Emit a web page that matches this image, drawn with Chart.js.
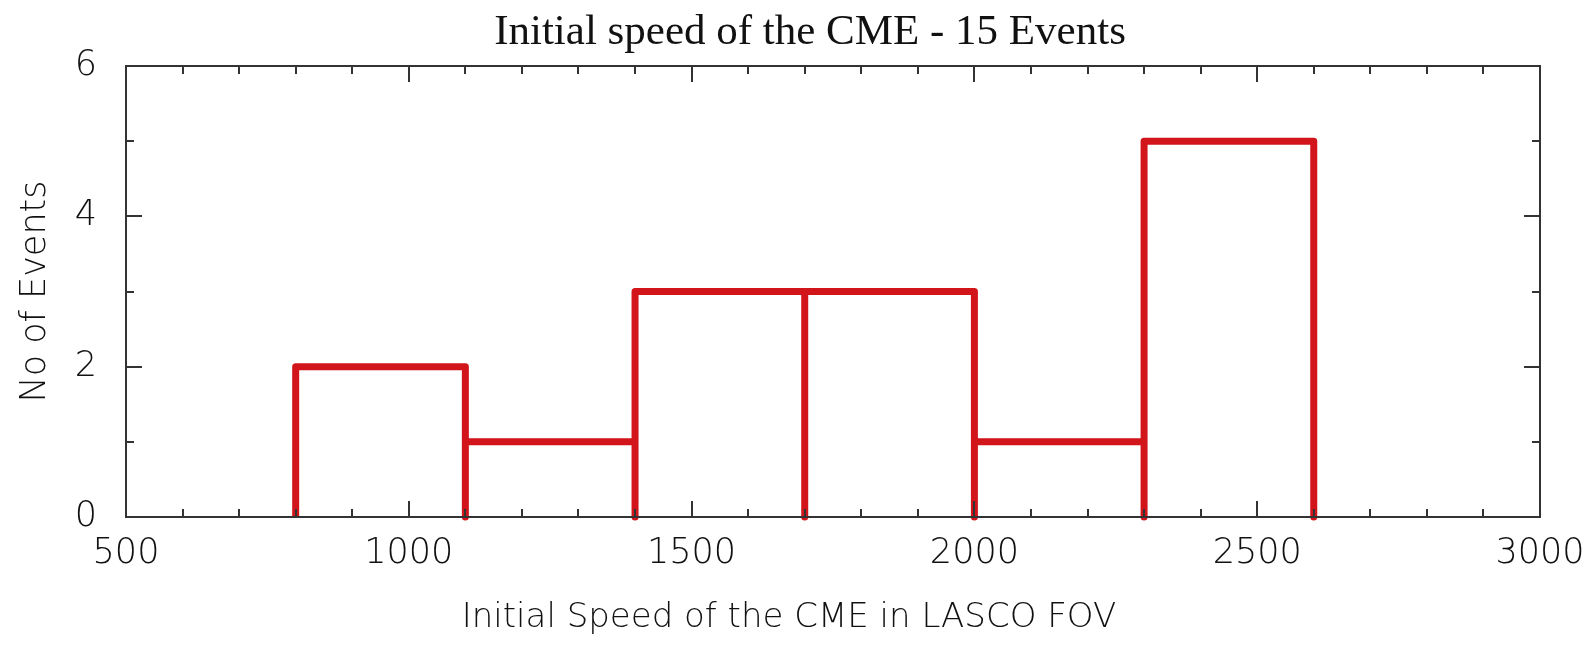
<!DOCTYPE html>
<html>
<head>
<meta charset="utf-8">
<script src="https://cdn.jsdelivr.net/npm/chart.js@4/dist/chart.umd.min.js"></script>
<style>
  html, body { margin: 0; padding: 0; background: #fff; }
  #wrap { width: 1593px; height: 649px; }
</style>
</head>
<body>
<div id="wrap"><canvas id="chart"></canvas></div>
<script>
// histogram of initial CME speeds (LASCO), 15 events
const binEdges = [800, 1100, 1400, 1700, 2000, 2300, 2600];
const eventCounts = [2, 1, 3, 3, 1, 5];
const xTicks = [500, 1000, 1500, 2000, 2500, 3000];
const yTicks = [0, 2, 4, 6];

const titleText = 'Initial speed of the CME - 15 Events';
const xTitleText = 'Initial Speed of the CME in LASCO FOV';
const yTitleText = 'No of Events';

const labelFont = '200 35px "DejaVu Sans"';
const axisColor = '#333';

// outline each bar: up the left edge, across, down the right edge
const outline = [];
eventCounts.forEach((c, i) => {
  outline.push({ x: binEdges[i], y: 0 });
  outline.push({ x: binEdges[i], y: c });
  outline.push({ x: binEdges[i + 1], y: c });
  outline.push({ x: binEdges[i + 1], y: 0 });
});

const frame = {
  id: 'frame',
  afterDraw(chart) {
    const { ctx, chartArea: a, scales: { x, y } } = chart;
    ctx.save();
    ctx.strokeStyle = axisColor;
    ctx.lineWidth = 2;
    ctx.strokeRect(a.left, a.top, a.right - a.left, a.bottom - a.top);

    ctx.beginPath();
    for (let v = x.min; v <= x.max; v += 100) {
      const px = Math.round(x.getPixelForValue(v));
      const len = v % 500 === 0 ? 16 : 8;
      ctx.moveTo(px, a.bottom); ctx.lineTo(px, a.bottom - len);
      ctx.moveTo(px, a.top); ctx.lineTo(px, a.top + len);
    }
    for (let v = y.min; v <= y.max; v += 1) {
      const py = Math.round(y.getPixelForValue(v));
      const len = v % 2 === 0 ? 16 : 8;
      ctx.moveTo(a.left, py); ctx.lineTo(a.left + len, py);
      ctx.moveTo(a.right, py); ctx.lineTo(a.right - len, py);
    }
    ctx.stroke();

    ctx.fillStyle = '#111';
    ctx.textAlign = 'center';
    ctx.textBaseline = 'middle';
    ctx.font = '43px "Liberation Serif"';
    ctx.fillText(titleText, 810, 33);

    ctx.font = '200 34px "DejaVu Sans"';
    ctx.fillText(xTitleText, 789, 618);

    ctx.font = labelFont;
    ctx.translate(36, (a.top + a.bottom) / 2);
    ctx.rotate(-Math.PI / 2);
    ctx.fillText(yTitleText, 0, 0);
    ctx.restore();
  }
};

const tickFont = { family: 'DejaVu Sans', size: 35, weight: 200 };

new Chart(document.getElementById('chart'), {
  type: 'line',
  data: {
    datasets: [{
      data: outline,
      borderColor: '#d2151b',
      borderWidth: 7,
      borderJoinStyle: 'round',
      pointRadius: 0,
      tension: 0,
      clip: false
    }]
  },
  options: {
    responsive: true,
    maintainAspectRatio: false,
    animation: false,
    layout: { padding: { top: 66, right: 53, left: 0, bottom: 0 } },
    plugins: { legend: { display: false }, tooltip: { enabled: false } },
    scales: {
      x: {
        type: 'linear',
        min: 500,
        max: 3000,
        afterBuildTicks: s => { s.ticks = xTicks.map(v => ({ value: v })); },
        afterFit: s => { s.height = 132; s.paddingLeft = 0; s.paddingRight = 0; },
        grid: { display: false, drawTicks: false },
        border: { display: false },
        ticks: { color: '#111', font: tickFont, padding: 16, maxRotation: 0, callback: v => String(v) }
      },
      y: {
        min: 0,
        max: 6,
        afterBuildTicks: s => { s.ticks = yTicks.map(v => ({ value: v })); },
        afterFit: s => { s.width = 126; s.paddingTop = 0; s.paddingBottom = 0; },
        grid: { display: false, drawTicks: false },
        border: { display: false },
        ticks: { color: '#111', font: tickFont, padding: 29, callback: v => String(v) }
      }
    }
  },
  plugins: [frame]
});
</script>
</body>
</html>
